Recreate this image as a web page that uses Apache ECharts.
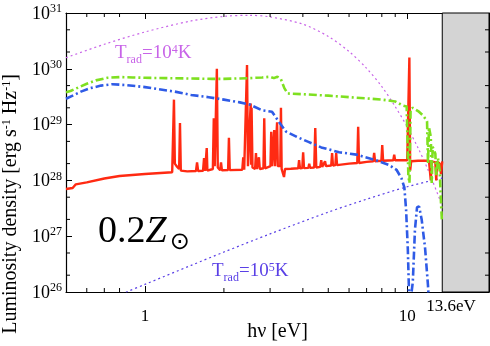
<!DOCTYPE html>
<html>
<head>
<meta charset="utf-8">
<script src="https://cdn.jsdelivr.net/npm/echarts@6/dist/echarts.min.js"></script>
<style>
html, body { margin: 0; padding: 0; background: #fff; }
#chart { width: 490px; height: 346px; }
</style>
</head>
<body>
<div id="chart"></div>
<script>
// [photon energy (eV), luminosity density (erg s^-1 Hz^-1)]
const redSpec = [
  [0.5, 7.0e27], [0.53, 7.3e27], [0.545, 8.5e27], [0.6, 9.2e27], [0.7, 1.08e28], [0.8, 1.2e28],
  [1.0, 1.3e28], [1.27, 1.4e28],
  [1.28, 1.4e28], [1.29, 2.8e29], [1.30, 2.0e28], [1.32, 1.8e28],
  [1.35, 1.6e28], [1.36, 1.07e29], [1.37, 1.5e28], [1.45, 1.45e28],
  [1.565, 1.47e28], [1.58, 2.1e28], [1.595, 1.47e28],
  [1.665, 1.48e28], [1.68, 2.5e28], [1.695, 1.48e28],
  [1.71, 1.48e28], [1.72, 3.8e28], [1.73, 1.5e28],
  [1.815, 1.6e28], [1.83, 1.3e29], [1.845, 1.8e28],
  [1.865, 1.8e28], [1.88, 1.0e30], [1.895, 1.7e28],
  [1.935, 1.52e28], [1.95, 2.1e28], [1.965, 1.52e28],
  [2.075, 1.53e28], [2.09, 5.8e28], [2.105, 1.53e28],
  [2.35, 1.55e28], [2.37, 2.6e28], [2.39, 1.55e28],
  [2.43, 1.6e28], [2.45, 1.17e30], [2.47, 1.8e28],
  [2.51, 1.7e28], [2.53, 2.4e29], [2.54, 1.9e28], [2.55, 2.0e29], [2.57, 1.7e28],
  [2.63, 1.6e28], [2.65, 3.1e28], [2.67, 1.6e28],
  [2.70, 1.6e28], [2.72, 2.6e28], [2.74, 1.6e28],
  [2.83, 1.65e28], [2.85, 1.3e29], [2.87, 1.65e28],
  [3.01, 1.8e28], [3.03, 7.4e28], [3.05, 1.8e28],
  [3.09, 1.8e28], [3.11, 8.0e28], [3.13, 1.8e28],
  [3.17, 1.8e28], [3.19, 1.1e29], [3.21, 1.8e28],
  [3.28, 1.8e28], [3.30, 2.0e29], [3.32, 1.6e28],
  [3.36, 1.6e28], [3.39, 1.15e28], [3.42, 1.6e28], [3.6, 1.62e28],
  [3.84, 1.65e28], [3.87, 2.3e28], [3.90, 1.65e28],
  [3.98, 1.66e28], [4.01, 3.2e28], [4.04, 1.66e28],
  [4.20, 1.68e28], [4.23, 2.0e28], [4.26, 1.68e28],
  [4.42, 1.7e28], [4.46, 8.7e28], [4.50, 1.7e28],
  [4.66, 1.75e28], [4.70, 2.3e28], [4.74, 1.75e28],
  [4.82, 1.8e28], [4.86, 2.2e28], [4.90, 1.8e28],
  [5.13, 1.85e28], [5.17, 3.1e28], [5.21, 1.85e28],
  [5.32, 1.88e28], [5.36, 3.1e28], [5.40, 1.88e28], [6.0, 2.0e28],
  [6.45, 2.05e28], [6.50, 9.1e28], [6.55, 2.05e28], [7.0, 2.15e28],
  [7.42, 2.2e28], [7.48, 3.1e28], [7.54, 2.2e28],
  [7.97, 2.25e28], [8.03, 4.3e28], [8.09, 2.25e28],
  [8.85, 2.3e28], [8.92, 2.9e28], [8.99, 2.3e28], [9.5, 2.3e28], [10.0, 2.3e28],
  [10.12, 2.3e28], [10.19, 1.6e30], [10.26, 1.5e28], [10.35, 2.2e28],
  [11.0, 2.25e28], [12.1, 2.25e28], [12.3, 1.0e28], [12.4, 2.2e28],
  [12.8, 2.1e28], [12.9, 1.0e28], [13.0, 2.2e28], [13.3, 2.0e28], [13.45, 1.3e28], [13.6, 2.2e28]
];
const greenSpec = [
  [0.5, 3.8e29], [0.52, 4.0e29], [0.55, 4.5e29], [0.6, 5.4e29], [0.65, 6.2e29], [0.72, 6.9e29],
  [0.8, 7.1e29], [0.9, 7.0e29], [1.0, 6.9e29], [1.2, 6.8e29], [1.5, 6.7e29], [1.8, 6.6e29],
  [2.0, 6.6e29], [2.5, 6.8e29], [2.8, 7.0e29], [3.0, 7.2e29], [3.1, 6.8e29], [3.2, 7.2e29],
  [3.3, 6.5e29], [3.4, 4.5e29], [3.5, 3.6e29], [4.0, 3.5e29], [5.0, 3.3e29], [6.0, 3.1e29],
  [7.0, 2.95e29], [8.0, 2.8e29], [9.0, 2.6e29], [9.6, 2.2e29], [9.95, 2.1e29],
  [10.1, 1.2e28], [10.2, 9e27], [10.3, 1.9e29], [10.5, 2.0e29], [11.0, 1.75e29], [11.5, 1.45e29],
  [11.9, 1.15e29], [12.0, 2.0e28], [12.1, 9e28], [12.3, 6e28], [12.4, 9e27], [12.5, 4e28],
  [12.8, 3e28], [12.9, 1.2e28], [13.1, 2.5e28], [13.3, 1.5e28], [13.45, 4e27], [13.55, 2e27]
];
const blueSpec = [
  [0.5, 2.9e29], [0.53, 3.3e29], [0.57, 3.9e29], [0.62, 4.5e29], [0.68, 5.0e29], [0.75, 5.3e29],
  [0.85, 5.1e29], [1.0, 4.7e29], [1.13, 4.3e29], [1.3, 3.9e29], [1.5, 3.4e29], [1.75, 3.1e29],
  [2.0, 2.8e29], [2.3, 2.5e29], [2.5, 2.3e29], [2.8, 1.8e29], [3.05, 1.7e29], [3.25, 1.1e29],
  [3.45, 7.5e28], [3.8, 6e28], [4.2, 4.9e28], [4.7, 3.9e28], [5.5, 3.2e28], [6.4, 2.9e28],
  [7.6, 2.3e28], [8.5, 1.9e28], [9.1, 1.55e28], [9.5, 1.1e28], [9.75, 7.5e27], [9.9, 3e27],
  [10.05, 6e26], [10.2, 5e25], [10.35, 5e25], [10.5, 1.5e26], [10.7, 1.3e27], [10.9, 3.3e27],
  [11.1, 3.4e27], [11.35, 2.0e27], [11.7, 6e26], [12.0, 1.3e26], [12.2, 3e25]
];
const bbT1e4 = [
  [0.5, 1.58e30], [0.7, 2.75e30], [1.0, 4.57e30], [1.5, 7.2e30], [2.0, 8.7e30], [2.5, 9.1e30],
  [3.0, 8.5e30], [4.0, 6.3e30], [5.0, 3.8e30], [6.0, 2.04e30], [7.0, 1.02e30], [8.0, 4.8e29],
  [9.0, 2.1e29], [10.0, 9.1e28], [11.0, 3.8e28], [12.0, 1.55e28], [13.6, 3.5e27]
];
const bbT1e5 = [
  [0.5, 3.5e25], [0.85, 1.0e26], [1.0, 1.37e26], [1.5, 3.0e26], [2.0, 5.2e26], [3.0, 1.1e27],
  [5.0, 2.7e27], [7.0, 4.6e27], [10.0, 7.7e27], [13.6, 1.1e28]
];
const xMinorTicks = [0.6, 0.7, 0.8, 2, 3, 4, 5, 6, 7, 8, 9];
const yMinorTicks = [2e26, 5e26, 2e27, 5e27, 2e28, 5e28, 2e29, 5e29, 2e30, 5e30];
const lymanLimit = 13.6;
const xRange = [0.5, 20.5];
const yRange = [1e26, 1e31];

const serif = "'Liberation Serif', 'DejaVu Serif', serif";

const chartObj = echarts.init(document.getElementById('chart'));

// short inward ticks on all four sides
function minorTickRender(isX) {
  return function (params, api) {
    const cs = params.coordSys;
    const v = api.value(isX ? 0 : 1);
    const p = api.coord(isX ? [v, yRange[0]] : [xRange[0], v]);
    const len = 4;
    const st = { stroke: '#000', lineWidth: 1 };
    let l1, l2;
    if (isX) {
      l1 = { x1: p[0], y1: cs.y + cs.height, x2: p[0], y2: cs.y + cs.height - len };
      l2 = { x1: p[0], y1: cs.y, x2: p[0], y2: cs.y + len };
    } else {
      l1 = { x1: cs.x, y1: p[1], x2: cs.x + len, y2: p[1] };
      l2 = { x1: cs.x + cs.width, y1: p[1], x2: cs.x + cs.width - len, y2: p[1] };
    }
    return {
      type: 'group',
      children: [
        { type: 'line', shape: l1, style: st },
        { type: 'line', shape: l2, style: st }
      ]
    };
  };
}

const baseX = {
  type: 'log', logBase: 10, min: xRange[0], max: xRange[1],
  splitLine: { show: false },
  axisLine: { lineStyle: { color: '#000', width: 1.2 } },
  axisTick: { inside: true, length: 6, lineStyle: { color: '#000' } }
};
const baseY = {
  type: 'log', logBase: 10, min: yRange[0], max: yRange[1],
  splitLine: { show: false },
  axisLine: { lineStyle: { color: '#000', width: 1.2 } },
  axisTick: { inside: true, length: 6, lineStyle: { color: '#000' } }
};

const option = {
  animation: false,
  grid: { left: 66, top: 13, right: 1, bottom: 54, containLabel: false, outerBoundsMode: 'none' },
  xAxis: [
    Object.assign({}, baseX, {
      position: 'bottom',
      name: 'hν [eV]',
      nameLocation: 'middle',
      nameGap: 30,
      nameMoveOverlap: false,
      nameTextStyle: { fontFamily: serif, fontSize: 20, color: '#000', verticalAlign: 'top' },
      axisLabel: {
        margin: 16, fontFamily: serif, fontSize: 17, color: '#000',
        showMinLabel: false, showMaxLabel: false,
        formatter: function (v) { return String(v); }
      }
    }),
    Object.assign({}, baseX, { position: 'top', axisLabel: { show: false } })
  ],
  yAxis: [
    Object.assign({}, baseY, {
      position: 'left',
      axisLabel: {
        margin: 4, color: '#000',
        formatter: function (v) {
          return '{b|10}{s|' + Math.round(Math.log10(v)) + '}';
        },
        rich: {
          b: { fontFamily: serif, fontSize: 18, lineHeight: 20, verticalAlign: 'bottom', color: '#000' },
          s: { fontFamily: serif, fontSize: 12, lineHeight: 12, verticalAlign: 'top', color: '#000', padding: [0, 0, 6, 0] }
        }
      }
    }),
    Object.assign({}, baseY, { position: 'right', axisLabel: { show: false } })
  ],
  series: [
    {
      name: 'T1e4', type: 'line', data: bbT1e4, showSymbol: false, smooth: 0.3,
      lineStyle: { color: '#c864e8', width: 1.2, type: [2, 3] }, z: 2
    },
    {
      name: 'T1e5', type: 'line', data: bbT1e5, showSymbol: false, smooth: 0.3,
      lineStyle: { color: '#5a40e6', width: 1.2, type: [2, 3] }, z: 2
    },
    {
      name: 'red', type: 'line', data: redSpec, showSymbol: false,
      lineStyle: { color: '#ff2a12', width: 2.4 }, z: 3
    },
    {
      name: 'blue', type: 'line', data: blueSpec, showSymbol: false,
      lineStyle: { color: '#2f5be6', width: 2.6, type: [8, 3, 2, 3] }, z: 4
    },
    {
      name: 'green', type: 'line', data: greenSpec, showSymbol: false,
      lineStyle: { color: '#7ee020', width: 2.6, type: [8, 3, 2, 3] }, z: 5
    },
    {
      name: 'igm', type: 'line', data: [], z: 6,
      markArea: {
        silent: true,
        itemStyle: { color: '#d4d4d4', borderColor: '#000', borderWidth: 1 },
        data: [[{ coord: [lymanLimit, yRange[0]] }, { coord: [xRange[1], yRange[1]] }]]
      }
    },
    {
      type: 'custom', data: xMinorTicks.map(v => [v, yRange[0]]), renderItem: minorTickRender(true),
      encode: { x: 0, y: 1 }, silent: true, z: 7
    },
    {
      type: 'custom', data: yMinorTicks.map(v => [xRange[0], v]), renderItem: minorTickRender(false),
      encode: { x: 0, y: 1 }, silent: true, z: 7
    }
  ],
  graphic: [
    {
      type: 'text', x: 11, y: 204, rotation: Math.PI / 2,
      style: {
        text: 'Luminosity density [erg s{p|-1} Hz{p|-1}]',
        align: 'center', verticalAlign: 'middle',
        fontFamily: serif, fontSize: 20, fill: '#000',
        rich: {
          p: { fontFamily: serif, fontSize: 12, verticalAlign: 'top', padding: [0, 0, 7, 0] }
        }
      }
    },
    {
      type: 'text', x: 98, y: 213,
      style: {
        text: '{n|0.2}{z|Z}{o|⊙}',
        fill: '#000',
        rich: {
          n: { fontFamily: serif, fontSize: 38, verticalAlign: 'top', lineHeight: 42 },
          z: { fontFamily: serif, fontSize: 38, fontStyle: 'italic', verticalAlign: 'top', lineHeight: 42, padding: [0, 3, 0, 0] },
          o: { fontFamily: "'DejaVu Sans', sans-serif", fontSize: 24, verticalAlign: 'bottom', lineHeight: 24 }
        }
      }
    },
    {
      type: 'text', x: 115, y: 44,
      style: {
        text: '{t|T}{b|rad}{t|=10}{p|4}{t|K}',
        fill: '#c864e8',
        rich: {
          t: { fontFamily: serif, fontSize: 19, lineHeight: 22, verticalAlign: 'top', fill: '#c864e8' },
          b: { fontFamily: serif, fontSize: 12, verticalAlign: 'bottom', fill: '#c864e8' },
          p: { fontFamily: serif, fontSize: 12, verticalAlign: 'top', fill: '#c864e8' }
        }
      }
    },
    {
      type: 'text', x: 212, y: 262,
      style: {
        text: '{t|T}{b|rad}{t|=10}{p|5}{t|K}',
        fill: '#5a40e6',
        rich: {
          t: { fontFamily: serif, fontSize: 19, lineHeight: 22, verticalAlign: 'top', fill: '#5a40e6' },
          b: { fontFamily: serif, fontSize: 12, verticalAlign: 'bottom', fill: '#5a40e6' },
          p: { fontFamily: serif, fontSize: 12, verticalAlign: 'top', fill: '#5a40e6' }
        }
      }
    },
    {
      type: 'text', x: 464, y: 146, rotation: Math.PI / 2,
      style: {
        text: 'absorbed\nin IGM', align: 'center', verticalAlign: 'middle',
        fontFamily: serif, fontSize: 14, lineHeight: 14, fill: '#000'
      }
    },
    {
      type: 'text', x: 451, y: 307,
      style: {
        text: '13.6eV', align: 'center', verticalAlign: 'middle',
        fontFamily: serif, fontSize: 17, fill: '#000'
      }
    }
  ]
};

chartObj.setOption(option);
window.addEventListener('resize', function () {
  chartObj.resize();
});
</script>
</body>
</html>
